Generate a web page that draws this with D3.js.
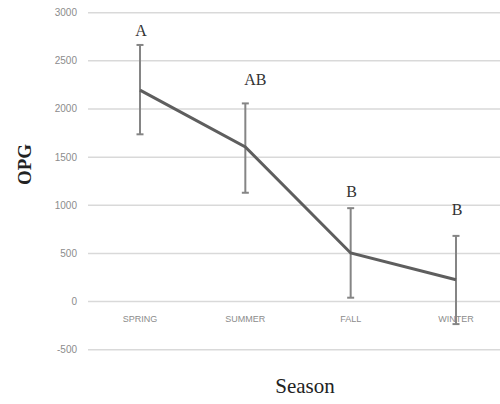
<!DOCTYPE html>
<meta charset="utf-8">
<style>
body { margin: 0; background: #fff; }
.grid line { stroke: #d9d9d9; stroke-width: 1.5px; }
.tick-label { font-family: "Liberation Sans", sans-serif; font-size: 10px; fill: #8c8c8c; }
.cat-label { font-family: "Liberation Sans", sans-serif; font-size: 9px; fill: #8c8c8c; }
.letter { font-family: "Liberation Serif", serif; font-size: 16px; fill: #333; }
</style>
<body>
<script src="https://cdnjs.cloudflare.com/ajax/libs/d3/7.8.5/d3.min.js"></script>
<script>

// data
var seasons = ["SPRING", "SUMMER", "FALL", "WINTER"];
var opg = [2196, 1605, 505, 227];
var errUp = [2665, 2058, 970, 682];
var errLow = [1737, 1130, 40, -234];
var letters = ["A", "AB", "B", "B"];
var letterLevel = [2755, 2250, 1085, 900];   // baseline height of the letters, in OPG units
var yTicks = [-500, 0, 500, 1000, 1500, 2000, 2500, 3000];

var width = 500, height = 404;

var svg = d3.select("body").append("svg")
    .attr("width", width)
    .attr("height", height);

var x = d3.scalePoint().domain(seasons).range([140, 456]);
var y = d3.scaleLinear().domain([-500, 3000]).range([349.7, 12.7]);

// gridlines
svg.append("g").attr("class", "grid")
  .selectAll("line").data(yTicks).enter().append("line")
    .attr("x1", 88).attr("x2", width)
    .attr("y1", function(d) { return y(d); })
    .attr("y2", function(d) { return y(d); });

// y tick labels
svg.append("g").selectAll("text").data(yTicks).enter().append("text")
    .attr("class", "tick-label")
    .attr("x", 77)
    .attr("y", function(d) { return y(d); })
    .attr("dy", "0.35em")
    .attr("text-anchor", "end")
    .text(function(d) { return d; });

// category labels under the 0 line
svg.append("g").selectAll("text").data(seasons).enter().append("text")
    .attr("class", "cat-label")
    .attr("x", function(d) { return x(d); })
    .attr("y", y(0) + 20)
    .attr("text-anchor", "middle")
    .text(function(d) { return d; });

// error bars
var eb = svg.append("g").attr("stroke", "#858585").attr("stroke-width", 2);
seasons.forEach(function(s, i) {
  eb.append("line")
      .attr("x1", x(s)).attr("x2", x(s))
      .attr("y1", y(errUp[i])).attr("y2", y(errLow[i]));
  [errUp[i], errLow[i]].forEach(function(v) {
    eb.append("line")
        .attr("x1", x(s) - 3.5).attr("x2", x(s) + 3.5)
        .attr("y1", y(v)).attr("y2", y(v));
  });
});

// the line
var valueline = d3.line()
    .x(function(d, i) { return x(seasons[i]); })
    .y(function(d) { return y(d); });

svg.append("path")
    .datum(opg)
    .attr("fill", "none")
    .attr("stroke", "#5e5e5e")
    .attr("stroke-width", 3)
    .attr("d", valueline);

// significance letters
svg.append("g").selectAll("text").data(letters).enter().append("text")
    .attr("class", "letter")
    .attr("x", function(d, i) { return x(seasons[i]) + (d.length > 1 ? 10 : 1); })
    .attr("y", function(d, i) { return y(letterLevel[i]); })
    .attr("text-anchor", "middle")
    .text(function(d) { return d; });

// axis titles
svg.append("text")
    .attr("transform", "translate(31,164.5) rotate(-90)")
    .attr("text-anchor", "middle")
    .style("font-family", "Liberation Serif, serif")
    .style("font-size", "19px")
    .style("font-weight", "bold")
    .style("fill", "#222")
    .text("OPG");

svg.append("text")
    .attr("x", 305)
    .attr("y", 393)
    .attr("text-anchor", "middle")
    .style("font-family", "Liberation Serif, serif")
    .style("font-size", "21px")
    .style("fill", "#222")
    .text("Season");

</script>
</body>
